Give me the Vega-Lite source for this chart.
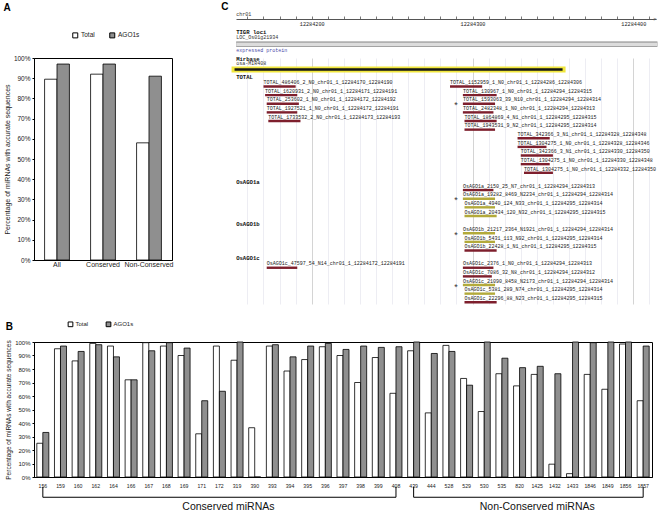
{
  "$schema": "https://vega.github.io/schema/vega-lite/v6.json",
  "padding": {"left": 2, "top": 2, "right": 0, "bottom": 0},
  "background": "white",
  "config": {
    "font": "Liberation Sans",
    "view": {"stroke": "black", "strokeWidth": 1},
    "axis": {"domainColor": "black", "labelColor": "#222", "titleColor": "#222", "titleFontWeight": "normal", "labelFont": "Liberation Sans", "titleFont": "Liberation Sans", "tickColor": "black", "grid": false},
    "legend": {"labelFont": "Liberation Sans", "labelColor": "#222"},
    "title": {"font": "Liberation Sans", "fontWeight": "bold", "fontSize": 10, "anchor": "start", "frame": "bounds", "color": "black"}
  },
  "datasets": {
    "pctB": [
      {"mirna": "156", "series": "Total", "pct": 25}, {"mirna": "156", "series": "AGO1s", "pct": 33},
      {"mirna": "159", "series": "Total", "pct": 95}, {"mirna": "159", "series": "AGO1s", "pct": 97},
      {"mirna": "160", "series": "Total", "pct": 86}, {"mirna": "160", "series": "AGO1s", "pct": 93},
      {"mirna": "162", "series": "Total", "pct": 99}, {"mirna": "162", "series": "AGO1s", "pct": 98},
      {"mirna": "164", "series": "Total", "pct": 97}, {"mirna": "164", "series": "AGO1s", "pct": 89},
      {"mirna": "166", "series": "Total", "pct": 72}, {"mirna": "166", "series": "AGO1s", "pct": 72},
      {"mirna": "167", "series": "Total", "pct": 99.5}, {"mirna": "167", "series": "AGO1s", "pct": 93.5},
      {"mirna": "168", "series": "Total", "pct": 97}, {"mirna": "168", "series": "AGO1s", "pct": 99.5},
      {"mirna": "169", "series": "Total", "pct": 90}, {"mirna": "169", "series": "AGO1s", "pct": 95.5},
      {"mirna": "171", "series": "Total", "pct": 32}, {"mirna": "171", "series": "AGO1s", "pct": 56.5},
      {"mirna": "172", "series": "Total", "pct": 97}, {"mirna": "172", "series": "AGO1s", "pct": 63.5},
      {"mirna": "319", "series": "Total", "pct": 86.5}, {"mirna": "319", "series": "AGO1s", "pct": 100},
      {"mirna": "390", "series": "Total", "pct": 36.5}, {"mirna": "390", "series": "AGO1s", "pct": 0},
      {"mirna": "393", "series": "Total", "pct": 97}, {"mirna": "393", "series": "AGO1s", "pct": 98},
      {"mirna": "394", "series": "Total", "pct": 78.5}, {"mirna": "394", "series": "AGO1s", "pct": 89},
      {"mirna": "395", "series": "Total", "pct": 87}, {"mirna": "395", "series": "AGO1s", "pct": 97},
      {"mirna": "396", "series": "Total", "pct": 96.5}, {"mirna": "396", "series": "AGO1s", "pct": 99},
      {"mirna": "397", "series": "Total", "pct": 90}, {"mirna": "397", "series": "AGO1s", "pct": 94.5},
      {"mirna": "398", "series": "Total", "pct": 70}, {"mirna": "398", "series": "AGO1s", "pct": 97},
      {"mirna": "399", "series": "Total", "pct": 88.5}, {"mirna": "399", "series": "AGO1s", "pct": 96},
      {"mirna": "408", "series": "Total", "pct": 62}, {"mirna": "408", "series": "AGO1s", "pct": 96.5},
      {"mirna": "439", "series": "Total", "pct": 93.5}, {"mirna": "439", "series": "AGO1s", "pct": 100},
      {"mirna": "444", "series": "Total", "pct": 47.5}, {"mirna": "444", "series": "AGO1s", "pct": 91.5},
      {"mirna": "528", "series": "Total", "pct": 97.5}, {"mirna": "528", "series": "AGO1s", "pct": 93},
      {"mirna": "529", "series": "Total", "pct": 73}, {"mirna": "529", "series": "AGO1s", "pct": 68},
      {"mirna": "530", "series": "Total", "pct": 48.5}, {"mirna": "530", "series": "AGO1s", "pct": 100},
      {"mirna": "535", "series": "Total", "pct": 76.5}, {"mirna": "535", "series": "AGO1s", "pct": 88},
      {"mirna": "820", "series": "Total", "pct": 67.5}, {"mirna": "820", "series": "AGO1s", "pct": 81},
      {"mirna": "1425", "series": "Total", "pct": 76}, {"mirna": "1425", "series": "AGO1s", "pct": 82},
      {"mirna": "1432", "series": "Total", "pct": 9.5}, {"mirna": "1432", "series": "AGO1s", "pct": 76.5},
      {"mirna": "1433", "series": "Total", "pct": 2.5}, {"mirna": "1433", "series": "AGO1s", "pct": 100},
      {"mirna": "1846", "series": "Total", "pct": 76}, {"mirna": "1846", "series": "AGO1s", "pct": 99.5},
      {"mirna": "1849", "series": "Total", "pct": 65}, {"mirna": "1849", "series": "AGO1s", "pct": 100},
      {"mirna": "1856", "series": "Total", "pct": 98.5}, {"mirna": "1856", "series": "AGO1s", "pct": 100},
      {"mirna": "1857", "series": "Total", "pct": 56.5}, {"mirna": "1857", "series": "AGO1s", "pct": 97}
    ],
    "bracketLines": [
      {"mirna": "156", "mirna2": "408", "pct": -15},
      {"mirna": "439", "mirna2": "1857", "pct": -15}
    ],
    "bracketEnds": [
      {"mirna": "156", "pct": -7.2, "pct2": -15},
      {"mirna": "408", "pct": -7.2, "pct2": -15},
      {"mirna": "439", "pct": -7.2, "pct2": -15},
      {"mirna": "1857", "pct": -7.2, "pct2": -15}
    ],
    "bracketLabels": [
      {"mirna": "172", "pct": -22.3, "label": "Conserved miRNAs", "group": "conserved"},
      {"mirna": "1425", "pct": -22.3, "label": "Non-Conserved miRNAs", "group": "nonconserved"}
    ],
    "reads": [
      {"name": "TOTAL_486406_2_N0_chr01_1_12284170_12284190", "start": 12284170, "end": 12284190, "lane": 0, "abundance": "low", "star": false},
      {"name": "TOTAL_1620931_2_N0_chr01_1_12284171_12284191", "start": 12284171, "end": 12284191, "lane": 1, "abundance": "low", "star": false},
      {"name": "TOTAL_253602_1_N0_chr01_1_12284172_12284192", "start": 12284172, "end": 12284192, "lane": 2, "abundance": "low", "star": false},
      {"name": "TOTAL_1927521_1_N0_chr01_1_12284172_12284191", "start": 12284172, "end": 12284191, "lane": 3, "abundance": "low", "star": false},
      {"name": "TOTAL_1733532_2_N0_chr01_1_12284173_12284193", "start": 12284173, "end": 12284193, "lane": 4, "abundance": "low", "star": false},
      {"name": "TOTAL_1152959_1_N0_chr01_1_12284286_12284306", "start": 12284286, "end": 12284306, "lane": 0, "abundance": "low", "star": false},
      {"name": "TOTAL_130967_1_N0_chr01_1_12284294_12284315", "start": 12284294, "end": 12284315, "lane": 1, "abundance": "low", "star": false},
      {"name": "TOTAL_1593063_39_N10_chr01_1_12284294_12284314", "start": 12284294, "end": 12284314, "lane": 2, "abundance": "low", "star": true},
      {"name": "TOTAL_2482348_1_N0_chr01_1_12284294_12284313", "start": 12284294, "end": 12284313, "lane": 3, "abundance": "low", "star": false},
      {"name": "TOTAL_1864869_4_N1_chr01_1_12284295_12284315", "start": 12284295, "end": 12284315, "lane": 4, "abundance": "low", "star": false},
      {"name": "TOTAL_1943531_9_N2_chr01_1_12284295_12284314", "start": 12284295, "end": 12284314, "lane": 5, "abundance": "low", "star": false},
      {"name": "TOTAL_342366_3_N1_chr01_1_12284328_12284348", "start": 12284328, "end": 12284348, "lane": 6, "abundance": "low", "star": false},
      {"name": "TOTAL_1304275_1_N0_chr01_1_12284328_12284346", "start": 12284328, "end": 12284346, "lane": 7, "abundance": "low", "star": false},
      {"name": "TOTAL_342366_3_N1_chr01_1_12284330_12284350", "start": 12284330, "end": 12284350, "lane": 8, "abundance": "low", "star": false},
      {"name": "TOTAL_1304275_1_N0_chr01_1_12284330_12284348", "start": 12284330, "end": 12284348, "lane": 9, "abundance": "low", "star": false},
      {"name": "TOTAL_1304275_1_N0_chr01_1_12284332_12284350", "start": 12284332, "end": 12284350, "lane": 10, "abundance": "low", "star": false},
      {"name": "OsAGO1a_2150_25_N7_chr01_1_12284294_12284313", "start": 12284294, "end": 12284313, "lane": 12, "abundance": "low", "star": false},
      {"name": "OsAGO1a_19282_8469_N2234_chr01_1_12284294_12284314", "start": 12284294, "end": 12284314, "lane": 13, "abundance": "high", "star": true},
      {"name": "OsAGO1a_4940_124_N33_chr01_1_12284295_12284314", "start": 12284295, "end": 12284314, "lane": 14, "abundance": "high", "star": false},
      {"name": "OsAGO1a_20434_120_N32_chr01_1_12284295_12284315", "start": 12284295, "end": 12284315, "lane": 15, "abundance": "high", "star": false},
      {"name": "OsAGO1b_21217_2364_N1921_chr01_1_12284294_12284314", "start": 12284294, "end": 12284314, "lane": 17, "abundance": "high", "star": true},
      {"name": "OsAGO1b_5431_113_N92_chr01_1_12284295_12284314", "start": 12284295, "end": 12284314, "lane": 18, "abundance": "high", "star": false},
      {"name": "OsAGO1b_22428_1_N1_chr01_1_12284295_12284315", "start": 12284295, "end": 12284315, "lane": 19, "abundance": "low", "star": false},
      {"name": "OsAGO1c_47597_54_N14_chr01_1_12284172_12284191", "start": 12284172, "end": 12284191, "lane": 21, "abundance": "low", "star": false},
      {"name": "OsAGO1c_2376_1_N0_chr01_1_12284294_12284313", "start": 12284294, "end": 12284313, "lane": 21, "abundance": "low", "star": false},
      {"name": "OsAGO1c_7086_32_N8_chr01_1_12284294_12284312", "start": 12284294, "end": 12284312, "lane": 22, "abundance": "low", "star": false},
      {"name": "OsAGO1c_21090_8458_N2173_chr01_1_12284294_12284314", "start": 12284294, "end": 12284314, "lane": 23, "abundance": "high", "star": true},
      {"name": "OsAGO1c_5381_289_N74_chr01_1_12284295_12284314", "start": 12284295, "end": 12284314, "lane": 24, "abundance": "high", "star": false},
      {"name": "OsAGO1c_22296_88_N23_chr01_1_12284295_12284315", "start": 12284295, "end": 12284315, "lane": 25, "abundance": "low", "star": false}
    ],
    "tracks": [
      {"label": "C", "start": 12284153, "lane": -9.2, "kind": "panel"},
      {"label": "chr01", "start": 12284153, "lane": -8.44, "kind": "sub"},
      {"label": "TIGR loci", "start": 12284153, "lane": -6.33, "kind": "track"},
      {"label": "LOC_Os01g21934", "start": 12284153, "lane": -5.74, "kind": "sub"},
      {"label": "expressed protein", "start": 12284153, "lane": -4.2, "kind": "desc"},
      {"label": "Mirbase", "start": 12284153, "lane": -3.2, "kind": "track"},
      {"label": "osa-MIR408", "start": 12284153, "lane": -2.67, "kind": "sub"},
      {"label": "TOTAL", "start": 12284153, "lane": -1.1, "kind": "track"},
      {"label": "OsAGO1a", "start": 12284153, "lane": 11.07, "kind": "track"},
      {"label": "OsAGO1b", "start": 12284153, "lane": 15.9, "kind": "track"},
      {"label": "OsAGO1c", "start": 12284153, "lane": 19.84, "kind": "track"},
      {"label": ">", "start": 12284414, "lane": -7.82, "kind": "arrowR"}
    ],
    "features": [
      {"feature": "gene", "start": 12284153, "end": 12284415, "lane": -4.9},
      {"feature": "precursor", "start": 12284152, "end": 12284356, "lane": -1.97}
    ]
  },
  "resolve": {"scale": {"color": "independent", "x": "independent", "y": "independent", "xOffset": "independent"}, "legend": {"color": "independent"}},
  "spacing": 16,
  "vconcat": [
    {
      "resolve": {"scale": {"color": "independent", "x": "independent", "y": "independent", "xOffset": "independent"}, "legend": {"color": "independent"}},
      "spacing": 47,
      "hconcat": [
        {
          "width": 138,
          "height": 202,
          "title": {"text": "A", "offset": 19},
          "data": {"values": [
            {"group": "All", "series": "Total", "pct": 89.5},
            {"group": "All", "series": "AGO1s", "pct": 97},
            {"group": "Conserved", "series": "Total", "pct": 92},
            {"group": "Conserved", "series": "AGO1s", "pct": 97},
            {"group": "Non-Conserved", "series": "Total", "pct": 58},
            {"group": "Non-Conserved", "series": "AGO1s", "pct": 91}
          ]},
          "mark": {"type": "bar", "stroke": "black", "strokeWidth": 0.8},
          "encoding": {
            "x": {"field": "group", "type": "nominal", "sort": ["All", "Conserved", "Non-Conserved"],
              "scale": {"paddingInner": 0.46, "paddingOuter": 0.23},
              "axis": {"title": null, "labelAngle": 0, "labelFontSize": 7, "ticks": false, "labelPadding": 0}},
            "xOffset": {"field": "series", "type": "nominal", "sort": ["Total", "AGO1s"]},
            "y": {"field": "pct", "type": "quantitative", "scale": {"domain": [0, 100], "nice": false},
              "axis": {"values": [0, 10, 20, 30, 40, 50, 60, 70, 80, 90, 100], "labelExpr": "datum.value + '%'", "title": "Percentage of miRNAs with accurate sequences", "labelFontSize": 6.5, "titleFontSize": 7, "tickSize": 2, "labelPadding": 2, "titlePadding": 3}},
            "color": {"field": "series", "type": "nominal", "sort": ["Total", "AGO1s"], "scale": {"domain": ["Total", "AGO1s"], "range": ["#ffffff", "#8f8f8f"]},
              "legend": {"title": null, "orient": "none", "legendX": 38, "legendY": -26, "direction": "horizontal", "symbolType": "square", "symbolSize": 25, "symbolStrokeColor": "black", "symbolStrokeWidth": 1, "labelFontSize": 6.5, "columnPadding": 12, "labelOffset": 2.5}}
          }
        },
        {
          "width": 420,
          "height": 246,
          "view": {"stroke": null},
          "encoding": {
            "x": {"field": "start", "type": "quantitative",
              "scale": {"domain": [12284152.9, 12284414.1], "nice": false, "zero": false},
              "axis": {"orient": "top", "offset": 39, "title": null,
                "values": [12284160, 12284170, 12284180, 12284190, 12284200, 12284210, 12284220, 12284230, 12284240, 12284250, 12284260, 12284270, 12284280, 12284290, 12284300, 12284310, 12284320, 12284330, 12284340, 12284350, 12284360, 12284370, 12284380, 12284390, 12284400, 12284410],
                "grid": true, "gridColor": {"condition": {"test": "datum.value % 100 === 0", "value": "#c9c9c9"}, "value": "#e8e8f0"}, "gridWidth": 0.8,
                "domainColor": "#555", "tickColor": "#555", "tickSize": 3, "tickWidth": 0.8,
                "labelExpr": "datum.value % 100 === 0 ? '' + datum.value : ''", "labelFont": "Liberation Mono", "labelFontSize": 5.2, "labelBaseline": "middle", "labelPadding": -7.4, "labelColor": "#222", "labelFlush": false, "labelOverlap": false}},
            "y": {"field": "lane", "type": "quantitative", "scale": {"domain": [-3.3, 25.2], "reverse": true, "nice": false, "zero": false}, "axis": null}
          },
          "layer": [
            {"data": {"name": "features"}, "transform": [{"filter": "datum.feature === 'gene'"}],
              "mark": {"type": "rule", "strokeWidth": 5.2, "color": "#858585"}, "encoding": {"x2": {"field": "end"}}},
            {"data": {"name": "features"}, "transform": [{"filter": "datum.feature === 'gene'"}],
              "mark": {"type": "rule", "strokeWidth": 3.4, "color": "#dcdcdc"}, "encoding": {"x2": {"field": "end"}}},
            {"data": {"name": "features"}, "transform": [{"filter": "datum.feature === 'precursor'"}],
              "mark": {"type": "rule", "strokeWidth": 6, "color": "#f0e63c", "strokeCap": "square"}, "encoding": {"x2": {"field": "end"}}},
            {"data": {"name": "features"}, "transform": [{"filter": "datum.feature === 'precursor'"}],
              "mark": {"type": "rule", "strokeWidth": 2.4, "color": "#151515"}, "encoding": {"x2": {"field": "end"}}},
            {"data": {"name": "reads"},
              "mark": {"type": "rule", "strokeWidth": 2.4},
              "encoding": {"x2": {"field": "end"}, "color": {"field": "abundance", "type": "nominal", "scale": {"domain": ["low", "high"], "range": ["#7e1f2d", "#b3aa3a"]}, "legend": null}}},
            {"data": {"name": "reads"},
              "mark": {"type": "text", "align": "left", "baseline": "middle", "dy": -4.3, "font": "Liberation Mono", "fontSize": 5, "color": "#222"},
              "encoding": {"text": {"field": "name"}}},
            {"data": {"name": "reads"}, "transform": [{"filter": "datum.star"}],
              "mark": {"type": "text", "align": "center", "baseline": "middle", "dx": -7, "dy": 1.5, "font": "Liberation Sans", "fontSize": 9, "color": "#333"},
              "encoding": {"text": {"value": "*"}}},
            {"data": {"name": "tracks"}, "transform": [{"filter": "datum.kind === 'panel'"}],
              "mark": {"type": "text", "align": "left", "baseline": "middle", "dx": -15, "font": "Liberation Sans", "fontWeight": "bold", "fontSize": 10, "color": "black"},
              "encoding": {"text": {"field": "label"}}},
            {"data": {"name": "tracks"}, "transform": [{"filter": "datum.kind === 'track'"}],
              "mark": {"type": "text", "align": "left", "baseline": "middle", "font": "Liberation Mono", "fontWeight": "bold", "fontSize": 5.6, "color": "#111"},
              "encoding": {"text": {"field": "label"}}},
            {"data": {"name": "tracks"}, "transform": [{"filter": "datum.kind === 'sub'"}],
              "mark": {"type": "text", "align": "left", "baseline": "middle", "font": "Liberation Mono", "fontSize": 5, "color": "#333"},
              "encoding": {"text": {"field": "label"}}},
            {"data": {"name": "tracks"}, "transform": [{"filter": "datum.kind === 'desc'"}],
              "mark": {"type": "text", "align": "left", "baseline": "middle", "font": "Liberation Mono", "fontSize": 5, "color": "#4a4aa8"},
              "encoding": {"text": {"field": "label"}}},
            {"data": {"name": "tracks"}, "transform": [{"filter": "datum.kind === 'arrowR'"}],
              "mark": {"type": "text", "align": "right", "baseline": "middle", "dx": 1, "font": "Liberation Mono", "fontSize": 6, "color": "#555"},
              "encoding": {"text": {"field": "label"}}}
          ]
        }
      ]
    },
    {
      "width": 618,
      "height": 135,
      "title": {"text": "B", "offset": -11},
      "encoding": {
        "x": {"field": "mirna", "type": "nominal",
          "scale": {"domain": ["156", "159", "160", "162", "164", "166", "167", "168", "169", "171", "172", "319", "390", "393", "394", "395", "396", "397", "398", "399", "408", "439", "444", "528", "529", "530", "535", "820", "1425", "1432", "1433", "1846", "1849", "1856", "1857"], "paddingInner": 0.32, "paddingOuter": 0.16},
          "axis": {"title": null, "labelAngle": 0, "labelFontSize": 5.2, "ticks": false, "labelPadding": 6}},
        "y": {"field": "pct", "type": "quantitative", "scale": {"domain": [0, 100], "nice": false},
          "axis": {"values": [0, 10, 20, 30, 40, 50, 60, 70, 80, 90, 100], "labelExpr": "datum.value + '%'", "title": "Percentage of miRNAs with accurate sequences", "labelFontSize": 6, "titleFontSize": 6.5, "tickSize": 2, "labelPadding": 2, "titlePadding": 3}}
      },
      "layer": [
        {"data": {"name": "pctB"},
          "mark": {"type": "bar", "stroke": "black", "strokeWidth": 0.8},
          "encoding": {
            "xOffset": {"field": "series", "type": "nominal", "sort": ["Total", "AGO1s"]},
            "color": {"field": "series", "type": "nominal", "scale": {"domain": ["Total", "AGO1s"], "range": ["#ffffff", "#8f8f8f"]},
              "legend": {"title": null, "orient": "none", "legendX": 33.5, "legendY": -21, "direction": "horizontal", "symbolType": "square", "symbolSize": 22, "symbolStrokeColor": "black", "symbolStrokeWidth": 1, "labelFontSize": 6, "columnPadding": 15, "labelOffset": 2}}
          }},
        {"data": {"name": "bracketLines"},
          "mark": {"type": "rule", "color": "black", "strokeWidth": 1},
          "encoding": {"x2": {"field": "mirna2"}}},
        {"data": {"name": "bracketEnds"},
          "mark": {"type": "rule", "color": "black", "strokeWidth": 1},
          "encoding": {"y2": {"field": "pct2"}}},
        {"data": {"name": "bracketLabels"}, "transform": [{"filter": "datum.group === 'conserved'"}],
          "mark": {"type": "text", "align": "center", "baseline": "middle", "dx": 9, "fontSize": 10.5, "color": "#111"},
          "encoding": {"text": {"field": "label"}}},
        {"data": {"name": "bracketLabels"}, "transform": [{"filter": "datum.group === 'nonconserved'"}],
          "mark": {"type": "text", "align": "center", "baseline": "middle", "fontSize": 10.5, "color": "#111"},
          "encoding": {"text": {"field": "label"}}}
      ]
    }
  ]
}
